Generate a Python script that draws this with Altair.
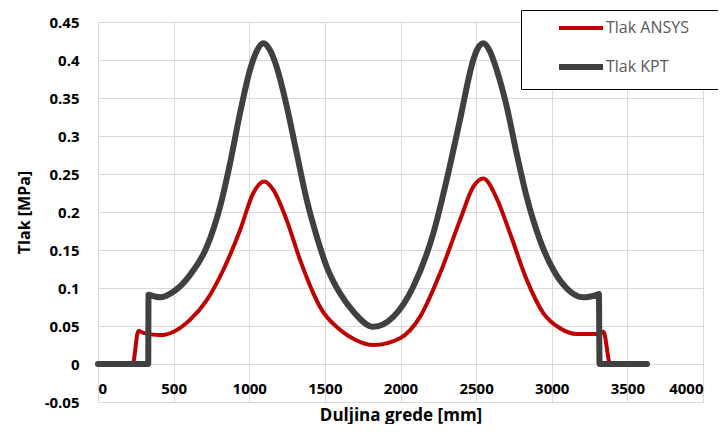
import altair as alt
import pandas as pd

# ---- data ----
SERIES = ["Tlak ANSYS", "Tlak KPT"]
COLORS = ["#C00000", "#404040"]
WIDTHS = [4, 6]

ANSYS_X = [0, 229, 267, 300, 350, 410, 500, 608, 719, 829, 939, 1027, 1098, 1159,
           1248, 1336, 1424, 1468, 1600, 1700, 1820, 1997, 2129, 2261, 2393, 2481,
           2548, 2636, 2724, 2834, 2944, 3055, 3165, 3297, 3342, 3386, 3630]
ANSYS_Y = [0, 0, 0.0434, 0.041, 0.039, 0.038, 0.0425, 0.058, 0.084, 0.124, 0.176,
           0.225, 0.240, 0.229, 0.189, 0.137, 0.093, 0.075, 0.045, 0.032, 0.025,
           0.034, 0.062, 0.119, 0.189, 0.233, 0.244, 0.218, 0.172, 0.111, 0.067,
           0.047, 0.0395, 0.0395, 0.0425, 0, 0]

KPT_X = [0, 332, 334, 370, 410, 498, 608, 719, 807, 873, 939, 1005, 1050, 1093,
         1140, 1181, 1248, 1314, 1380, 1446, 1512, 1600, 1688, 1820, 1952, 2085,
         2217, 2305, 2393, 2481, 2505, 2548, 2590, 2636, 2702, 2768, 2834, 2922,
         3010, 3099, 3209, 3297, 3312, 3316, 3630]
KPT_Y = [0, 0, 0.091, 0.089, 0.0877, 0.095, 0.117, 0.154, 0.207, 0.264, 0.33,
         0.387, 0.412, 0.422, 0.412, 0.391, 0.339, 0.277, 0.216, 0.168, 0.128,
         0.093, 0.069, 0.049, 0.062, 0.102, 0.172, 0.242, 0.321, 0.40, 0.413,
         0.422, 0.412, 0.387, 0.339, 0.277, 0.220, 0.163, 0.124, 0.0996, 0.0877,
         0.091, 0.092, 0, 0]

X_TICKS = [0, 500, 1000, 1500, 2000, 2500, 3000, 3500, 4000]
Y_TICKS = [-0.05, 0, 0.05, 0.1, 0.15, 0.2, 0.25, 0.3, 0.35, 0.4, 0.45]

df = pd.concat([
    pd.DataFrame({"x": ANSYS_X, "y": ANSYS_Y, "series": SERIES[0]}),
    pd.DataFrame({"x": KPT_X, "y": KPT_Y, "series": SERIES[1]}),
], ignore_index=True)

FONT = "Open Sans"
GRID = "#D9D9D9"

legend = alt.Legend(
    title="\u00a0", titleOrient="right", titlePadding=19, titleFontSize=4,
    orient="none", legendX=423, legendY=-12, direction="vertical",
    symbolType="M-4.4,0H4.4", symbolSize=100, symbolOffset=42, labelOffset=17,
    padding=10, rowPadding=19, strokeColor="black", fillColor="white",
    labelFont=FONT, labelFontSize=16, labelColor="#595959",
)

x_enc = alt.X(
    "x:Q",
    scale=alt.Scale(domain=[0, 4000], nice=False),
    axis=alt.Axis(
        values=X_TICKS, format="d", title="Duljina grede [mm]", offset=-38,
        labelPadding=17, titlePadding=11, ticks=False, domain=False, gridColor=GRID,
        labelFont=FONT, labelFontSize=15, labelFontWeight="bold", labelColor="black",
        titleFont=FONT, titleFontSize=17, titleFontWeight="bold", titleColor="black",
    ),
)
y_enc = alt.Y(
    "y:Q",
    scale=alt.Scale(domain=[-0.05, 0.45], nice=False, zero=False),
    axis=alt.Axis(
        values=Y_TICKS, title="Tlak [MPa]", labelPadding=19, titlePadding=12,
        ticks=False, domain=False, gridColor=GRID,
        labelExpr="replace(format(datum.value, '.2~f'), '\u2212', '-')",
        labelFont=FONT, labelFontSize=15, labelFontWeight="bold", labelColor="black",
        titleFont=FONT, titleFontSize=16, titleFontWeight="bold", titleColor="black",
    ),
)
color_enc = alt.Color("series:N", scale=alt.Scale(domain=SERIES, range=COLORS), legend=legend)
width_enc = alt.StrokeWidth("series:N", scale=alt.Scale(domain=SERIES, range=WIDTHS), legend=legend)

base = alt.Chart(df).mark_line(interpolate="monotone", strokeCap="round", strokeJoin="round").encode(
    x=x_enc, y=y_enc, color=color_enc, strokeWidth=width_enc
)

red = base.transform_filter(alt.datum.series == SERIES[0])
dark = base.transform_filter(alt.datum.series == SERIES[1])

chart = alt.layer(red, dark).properties(
    width=605, height=380,
    padding={"left": 90, "top": 14, "right": 15, "bottom": 22},
    autosize=alt.AutoSizeParams(type="none"),
    background="white",
).configure_view(stroke=None)

chart.save("out.html", embed_options={"renderer": "svg", "actions": False})
